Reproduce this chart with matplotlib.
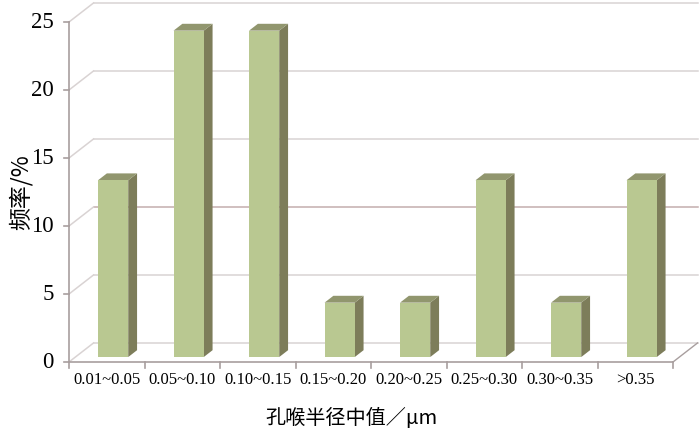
import matplotlib.pyplot as plt
from matplotlib.patches import Polygon

# 数据
categories = ['0.01~0.05', '0.05~0.10', '0.10~0.15', '0.15~0.20',
              '0.20~0.25', '0.25~0.30', '0.30~0.35', '>0.35']
freq = [13, 24, 24, 4, 4, 13, 4, 13]
yticks = [0, 5, 10, 15, 20, 25]

# 伪3D参数
DX = 0.325   # 背景墙x偏移(类别单位)
DY = 1.40    # 背景墙y偏移(数值单位)
f0, f1 = 0.26, 0.62   # 柱子在深度方向的位置
bw = 0.40

c_front = '#B9C891'
c_side = '#7D7D5A'
c_top = '#91966E'
c_grid = '#D9D3D3'
c_axis = '#A89E9E'

fig = plt.figure(figsize=(7, 4.3), dpi=100)
px_x, px_y = 75.5, 13.6
xmax, ymax = 8.36, 26.6
ax = fig.add_axes([69 / 700, (430 - 362) / 430, xmax * px_x / 700, ymax * px_y / 430])
ax.set_xlim(0, xmax)
ax.set_ylim(0, ymax)
ax.axis('off')

n = len(categories)
# 网格线 + 左侧斜线
for v in yticks:
    col = '#C4AEAE' if v == 10 else c_grid
    ax.plot([DX, n + DX], [v + DY, v + DY], color=col, lw=1.1, zorder=1)
    ax.plot([0, DX], [v, v + DY], color=c_grid, lw=1.1, zorder=1)
ax.plot([n, n + DX], [0, DY], color=c_axis, lw=1.0, zorder=1)

# 坐标轴
ax.plot([0, 0], [0, 25], color=c_axis, lw=1.2, zorder=3, clip_on=False)
ax.plot([0, n], [0, 0], color=c_axis, lw=1.2, zorder=3, clip_on=False)
for v in yticks:
    ax.plot([-0.07, 0], [v, v], color=c_axis, lw=1.2, clip_on=False)
    ax.text(-0.2, v, str(v), ha='right', va='center', fontsize=16.5,
            family='Liberation Serif')
for i in range(n + 1):
    ax.plot([i, i], [0, -0.45], color=c_axis, lw=1.2, clip_on=False)

# 柱子
for i, v in enumerate(freq):
    x0 = i + 0.5 - bw / 2
    x1 = x0 + bw
    front = [(x0 + f0 * DX, f0 * DY), (x1 + f0 * DX, f0 * DY),
             (x1 + f0 * DX, v + f0 * DY), (x0 + f0 * DX, v + f0 * DY)]
    side = [(x1 + f0 * DX, f0 * DY), (x1 + f1 * DX, f1 * DY),
            (x1 + f1 * DX, v + f1 * DY), (x1 + f0 * DX, v + f0 * DY)]
    top = [(x0 + f0 * DX, v + f0 * DY), (x1 + f0 * DX, v + f0 * DY),
           (x1 + f1 * DX, v + f1 * DY), (x0 + f1 * DX, v + f1 * DY)]
    ax.add_patch(Polygon(side, closed=True, fc=c_side, ec='none', zorder=4))
    ax.add_patch(Polygon(top, closed=True, fc=c_top, ec='none', zorder=4))
    ax.add_patch(Polygon(front, closed=True, fc=c_front, ec='none', zorder=5))
    ax.text(i + 0.5, -1.35, categories[i], ha='center', va='center', fontsize=12,
            family='Liberation Serif', clip_on=False)

# 轴标题
fig.text(351 / 700, 1 - 418 / 430, '孔喉半径中值／μm', ha='center', va='center',
         fontsize=14.5, family=['Noto Sans CJK SC', 'DejaVu Sans'])
fig.text(21 / 700, 1 - 192 / 430, '频率/%', ha='center', va='center', rotation=90,
         fontsize=16.5, family=['Noto Sans CJK SC', 'DejaVu Sans'])

fig.savefig('out.png', dpi=100)
